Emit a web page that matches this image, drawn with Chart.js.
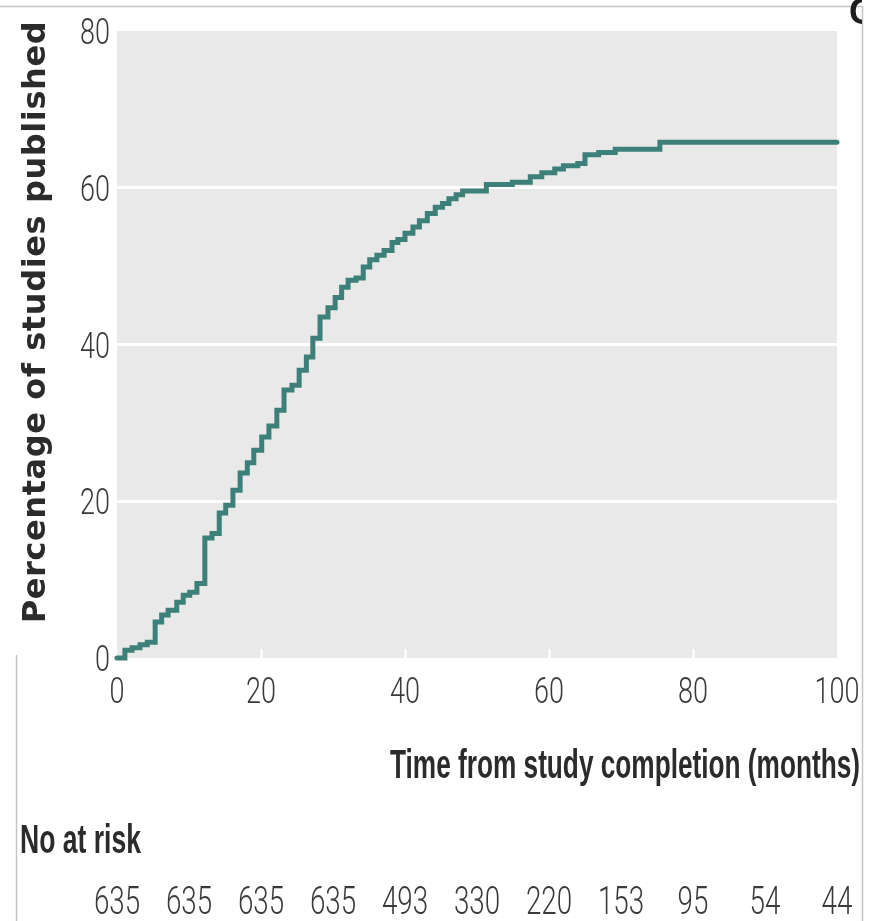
<!DOCTYPE html>
<html>
<head>
<meta charset="utf-8">
<script src="https://cdn.jsdelivr.net/npm/chart.js@4/dist/chart.umd.min.js"></script>
<style>
  html, body { margin: 0; padding: 0; background: #ffffff; }
  canvas { display: block; }
</style>
</head>
<body>
<canvas id="km" width="872" height="921"></canvas>
<script>
// Kaplan-Meier style cumulative publication curve: event times (months) and cumulative %
const months = [
  0, 1.1, 2.1, 3.2, 4.2, 5.3, 6.2, 7.1, 8.3, 9.2, 10.1, 11.1, 12.2,
  13.2, 14.2, 15.1, 16.1, 17.1, 18.1, 19.0, 20.1, 21.1, 22.2, 23.2, 24.3,
  25.3, 26.3, 27.2, 28.2, 29.3, 30.3, 31.2, 32.1, 33.2, 34.2, 35.1, 36.1,
  37.1, 38.2, 39.0, 40.0, 41.1, 42.0, 43.1, 44.2, 45.2, 46.1, 47.1, 48.0,
  51.3, 54.9, 57.4, 59.0, 60.8, 62.0, 64.0, 65.0, 66.9, 69.2, 75.4, 100
];
const published = [
  0, 1.0, 1.3, 1.7, 2.0, 4.6, 5.5, 6.1, 7.1, 8.0, 8.4, 9.5, 15.3,
  15.9, 18.5, 19.5, 21.4, 23.6, 24.9, 26.5, 28.2, 29.6, 31.6, 34.2, 34.8,
  36.7, 38.4, 40.8, 43.5, 44.7, 46.0, 47.3, 48.2, 48.5, 49.9, 50.8, 51.4,
  52.0, 53.0, 53.4, 54.2, 55.0, 55.8, 56.7, 57.5, 58.0, 58.6, 59.1, 59.6,
  60.4, 60.7, 61.4, 61.9, 62.4, 62.8, 63.1, 64.2, 64.5, 64.9, 65.8, 65.8
];

// Numbers at risk table under the x axis
const riskMonths = [0, 10, 20, 30, 40, 50, 60, 70, 80, 90, 100];
const atRisk = [635, 635, 635, 635, 493, 330, 220, 153, 95, 54, 44];

// Axis ticks
const xTicks = [0, 20, 40, 60, 80, 100];
const yTicks = [0, 20, 40, 60, 80];

const SANS = "'Liberation Sans', Arial, sans-serif";
const LIGHT = "Roboto, 'Liberation Sans', sans-serif";
const LINE_COLOR = '#3d807a';
const PANEL_BG = '#e9e9e9';
const TEXT_DARK = '#2b2b2b';
const TEXT_TICK = '#3a3a3a';

const points = months.map((m, i) => ({ x: m, y: published[i] }));

// condensed text helper: horizontal squeeze by a fixed factor
function drawSqueezed(ctx, text, x, y, font, sx, align) {
  ctx.save();
  ctx.translate(x, y);
  ctx.scale(sx, 1);
  ctx.font = font;
  ctx.textAlign = align;
  ctx.textBaseline = 'alphabetic';
  ctx.fillText(text, 0, 0);
  ctx.restore();
}

// condensed text helper: squeeze to a given overall width
function drawFitted(ctx, text, x, y, font, width, align) {
  ctx.save();
  ctx.font = font;
  const w = ctx.measureText(text).width;
  ctx.restore();
  drawSqueezed(ctx, text, x, y, font, width / w, align);
}

const panelPlugin = {
  id: 'panel',
  beforeDraw(chart) {
    const { ctx, chartArea: a } = chart;
    ctx.save();
    ctx.fillStyle = PANEL_BG;
    ctx.fillRect(a.left, a.top, a.right - a.left, a.bottom - a.top);
    ctx.restore();
  },
  beforeDatasetsDraw(chart) {
    // small white tick marks inside the panel at the x ticks
    const { ctx, chartArea: a, scales } = chart;
    ctx.save();
    ctx.strokeStyle = '#ffffff';
    ctx.lineWidth = 2;
    scales.x.ticks.forEach(t => {
      if (t.value === 0 || t.value === 100) return;
      const px = Math.round(scales.x.getPixelForValue(t.value)) + 0.5;
      ctx.beginPath();
      ctx.moveTo(px, a.bottom - 9);
      ctx.lineTo(px, a.bottom);
      ctx.stroke();
    });
    ctx.restore();
  },
  afterDraw(chart) {
    const { ctx, scales, chartArea: a } = chart;
    ctx.save();

    // tick labels (condensed light numerals)
    ctx.fillStyle = TEXT_TICK;
    const tickFont = "300 36px " + LIGHT;
    scales.x.ticks.forEach(t => {
      drawSqueezed(ctx, String(t.value), scales.x.getPixelForValue(t.value), 703, tickFont, 0.75, 'center');
    });
    scales.y.ticks.forEach(t => {
      drawSqueezed(ctx, String(t.value), a.left - 7, scales.y.getPixelForValue(t.value) + 13, tickFont, 0.75, 'right');
    });

    // y-axis title
    ctx.save();
    ctx.translate(45, 322);
    ctx.rotate(-Math.PI / 2);
    ctx.font = "bold 32px 'DejaVu Sans', sans-serif";
    ctx.letterSpacing = '0.6px';
    ctx.fillStyle = TEXT_DARK;
    ctx.textAlign = 'center';
    ctx.textBaseline = 'alphabetic';
    ctx.fillText('Percentage of studies published', 0, 0);
    ctx.restore();

    // x-axis title
    ctx.fillStyle = TEXT_DARK;
    drawFitted(ctx, 'Time from study completion (months)', 860, 778, "bold 41px " + SANS, 470, 'right');

    // numbers at risk
    drawFitted(ctx, 'No at risk', 20, 853, "bold 41px " + SANS, 121, 'left');
    ctx.fillStyle = TEXT_TICK;
    riskMonths.forEach((m, i) => {
      const px = scales.x.getPixelForValue(m);
      drawSqueezed(ctx, String(atRisk[i]), px, 914, "300 38px " + LIGHT, 0.73, 'center');
    });

    // frame edges
    ctx.strokeStyle = '#c4c4c4';
    ctx.lineWidth = 1.5;
    ctx.beginPath();
    ctx.moveTo(0, 6.5);
    ctx.lineTo(862, 6.5);
    ctx.moveTo(862.5, 6);
    ctx.lineTo(862.5, 921);
    ctx.moveTo(16.5, 655);
    ctx.lineTo(16.5, 921);
    ctx.stroke();

    // clipped panel letter at the top-right corner
    ctx.save();
    ctx.beginPath();
    ctx.rect(840, 0, 22, 30);
    ctx.clip();
    ctx.fillStyle = '#1e1e1e';
    ctx.font = "bold 36px " + SANS;
    ctx.textAlign = 'left';
    ctx.textBaseline = 'alphabetic';
    ctx.fillText('C', 849, 24);
    ctx.restore();

    ctx.restore();
  }
};

new Chart(document.getElementById('km'), {
  type: 'line',
  data: {
    datasets: [{
      data: points,
      stepped: true,
      borderColor: LINE_COLOR,
      borderWidth: 5,
      borderCapStyle: 'round',
      borderJoinStyle: 'miter',
      pointRadius: 0,
      fill: false,
      clip: false
    }]
  },
  options: {
    responsive: false,
    animation: false,
    devicePixelRatio: 1,
    layout: { padding: { top: 31, right: 35, left: 0, bottom: 0 } },
    plugins: { legend: { display: false }, tooltip: { enabled: false } },
    scales: {
      x: {
        type: 'linear',
        min: 0,
        max: 100,
        afterBuildTicks: s => { s.ticks = xTicks.map(v => ({ value: v })); },
        afterFit: s => { s.height = 921 - 658; },
        grid: { display: false, drawTicks: false },
        border: { display: false },
        ticks: { display: false }
      },
      y: {
        type: 'linear',
        min: 0,
        max: 80,
        afterBuildTicks: s => { s.ticks = yTicks.map(v => ({ value: v })); },
        afterFit: s => { s.width = 117; },
        grid: {
          drawTicks: false,
          lineWidth: 3,
          color: c => (c.tick && c.tick.value > 0 && c.tick.value < 80) ? '#ffffff' : 'rgba(0,0,0,0)'
        },
        border: { display: false },
        ticks: { display: false }
      }
    }
  },
  plugins: [panelPlugin]
});
</script>
</body>
</html>
